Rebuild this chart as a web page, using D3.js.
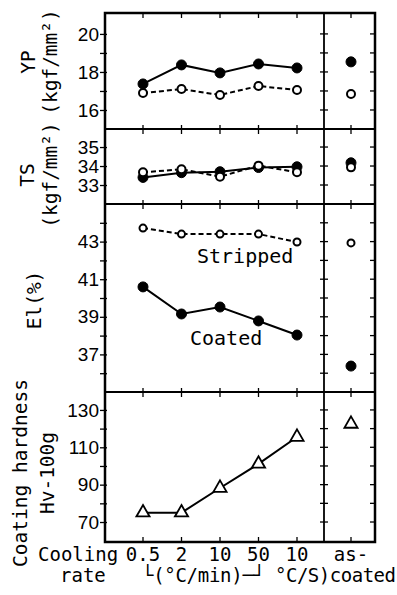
<!DOCTYPE html>
<html>
<head>
<meta charset="utf-8">
<script src="https://cdn.jsdelivr.net/npm/d3@7"></script>
<style>
  body { margin: 0; background: #fff; }
  svg { display: block; }
</style>
</head>
<body>
<div id="chart"></div>
<script>
// cooling rate categories (0.5..50 in °C/min, last one in °C/s)
const categories = ["0.5", "2", "10", "50", "10"];

// YP (kgf/mm2)
const ypCoated = [17.37, 18.37, 17.95, 18.42, 18.21];
const ypStripped = [16.89, 17.1, 16.79, 17.26, 17.05];
const ypAsCoated = [18.53, 16.84]; // coated, stripped

// TS (kgf/mm2)
const tsCoated = [33.4, 33.65, 33.7, 33.92, 33.96];
const tsStripped = [33.67, 33.83, 33.44, 34.02, 33.67];
const tsAsCoated = [34.17, 33.93];

// El (%)
const elCoated = [40.59, 39.15, 39.52, 38.78, 38.03];
const elStripped = [43.72, 43.4, 43.4, 43.4, 42.98];
const elAsCoated = [36.38, 42.93];

// coating hardness Hv-100g
const hardness = [75, 75, 88.2, 101.1, 115.5];
const hardnessAsCoated = [122.5];

// tick labels
const ypTicks = [16, 18, 20];
const tsTicks = [33, 34, 35];
const elTicks = [37, 39, 41, 43];
const hvTicks = [70, 90, 110, 130];

const W = 397, H = 595;
const left = 105, divider = 324, right = 375;
const mono = "'DejaVu Sans Mono', 'Liberation Mono', monospace";
const sans = "'Liberation Sans', Arial, sans-serif";

const svg = d3.select("#chart").append("svg")
  .attr("width", W).attr("height", H)
  .style("background", "#fff");

const x = d3.scaleLinear().domain([0, categories.length - 1]).range([143, 297]);
const xAs = d3.scalePoint().domain(["as-coated"]).range([327, 375]).padding(0.5);

const panels = [
  { top: 13, bottom: 129, domain: [15, 21.1], labels: ypTicks, minor: d3.range(16, 21, 1) },
  { top: 129, bottom: 204, domain: [32, 35.95], labels: tsTicks, minor: d3.range(33, 36, 1) },
  { top: 204, bottom: 392, domain: [35, 45], labels: elTicks, minor: d3.range(36, 45, 1) },
  { top: 392, bottom: 542, domain: [59.3, 139.6], labels: hvTicks, minor: d3.range(70, 140, 10) }
];
panels.forEach(p => {
  p.y = d3.scaleLinear().domain(p.domain).range([p.bottom, p.top]);
});

// frame
svg.append("rect")
  .attr("x", left).attr("y", panels[0].top)
  .attr("width", right - left).attr("height", panels[3].bottom - panels[0].top)
  .attr("fill", "none").attr("stroke", "#000").attr("stroke-width", 2.5);

svg.selectAll(".sep")
  .data(panels.slice(1))
  .enter().append("line")
  .attr("x1", left).attr("x2", right)
  .attr("y1", d => d.top).attr("y2", d => d.top)
  .attr("stroke", "#000").attr("stroke-width", 2);

svg.append("line")
  .attr("x1", divider).attr("x2", divider)
  .attr("y1", panels[0].top).attr("y2", panels[3].bottom)
  .attr("stroke", "#000").attr("stroke-width", 1.8);

// ticks along the horizontal lines
const xTicks = categories.map((c, i) => x(i)).concat([xAs("as-coated")]);
panels.forEach((p, k) => {
  const g = svg.append("g");
  g.selectAll("line.top")
    .data(xTicks)
    .enter().append("line")
    .attr("x1", d => d).attr("x2", d => d)
    .attr("y1", k == 0 ? p.top : p.top - 4)
    .attr("y2", p.top + 5)
    .attr("stroke", "#000").attr("stroke-width", 1.3);
});
svg.append("g").selectAll("line")
  .data(xTicks)
  .enter().append("line")
  .attr("x1", d => d).attr("x2", d => d)
  .attr("y1", panels[3].bottom - 5).attr("y2", panels[3].bottom)
  .attr("stroke", "#000").attr("stroke-width", 1.3);

// y axes
panels.forEach(p => {
  const ax = svg.append("g")
    .attr("transform", "translate(" + left + ",0)")
    .call(d3.axisLeft(p.y)
      .tickValues(p.minor)
      .tickSizeInner(5).tickSizeOuter(0).tickPadding(1)
      .tickFormat(d => p.labels.includes(d) ? d : ""));
  ax.select(".domain").remove();
  ax.selectAll("line").attr("stroke-width", 1.3).attr("x2", -5).attr("x1", 2);
  ax.selectAll("text")
    .attr("font-family", sans).attr("font-size", 19).attr("fill", "#000");

  // divider ticks (crossing)
  svg.append("g").selectAll("line")
    .data(p.minor)
    .enter().append("line")
    .attr("x1", divider - 4).attr("x2", divider + 4)
    .attr("y1", d => p.y(d)).attr("y2", d => p.y(d))
    .attr("stroke", "#000").attr("stroke-width", 1.3);

  // right frame ticks (inward)
  svg.append("g").selectAll("line")
    .data(p.minor)
    .enter().append("line")
    .attr("x1", right - 5).attr("x2", right)
    .attr("y1", d => p.y(d)).attr("y2", d => p.y(d))
    .attr("stroke", "#000").attr("stroke-width", 1.3);
});

// series
function drawLine(vals, y, dashed) {
  svg.append("path")
    .datum(vals)
    .attr("fill", "none")
    .attr("stroke", "#000")
    .attr("stroke-width", 2)
    .attr("stroke-dasharray", dashed ? "5,3" : null)
    .attr("d", d3.line().x((d, i) => x(i)).y(d => y(d)));
}
function drawDots(vals, y, filled, r, xf) {
  svg.append("g").selectAll("circle")
    .data(vals)
    .enter().append("circle")
    .attr("cx", (d, i) => xf(i))
    .attr("cy", d => y(d))
    .attr("r", r)
    .attr("fill", filled ? "#000" : "#fff")
    .attr("stroke", "#000")
    .attr("stroke-width", filled ? 1 : 2);
}
const xi = i => x(i);
const xa = i => xAs("as-coated");

const yYP = panels[0].y, yTS = panels[1].y, yEl = panels[2].y, yHv = panels[3].y;

drawLine(ypCoated, yYP, false);
drawLine(ypStripped, yYP, true);
drawDots(ypCoated, yYP, true, 5, xi);
drawDots(ypStripped, yYP, false, 4, xi);
drawDots([ypAsCoated[0]], yYP, true, 5, xa);
drawDots([ypAsCoated[1]], yYP, false, 4, xa);

drawLine(tsCoated, yTS, false);
drawLine(tsStripped, yTS, true);
drawDots(tsCoated, yTS, true, 5, xi);
drawDots(tsStripped, yTS, false, 4, xi);
drawDots([tsAsCoated[0]], yTS, true, 5, xa);
drawDots([tsAsCoated[1]], yTS, false, 4, xa);

drawLine(elCoated, yEl, false);
drawLine(elStripped, yEl, true);
drawDots(elCoated, yEl, true, 5, xi);
drawDots(elStripped, yEl, false, 3.5, xi);
drawDots([elAsCoated[0]], yEl, true, 5, xa);
drawDots([elAsCoated[1]], yEl, false, 3.5, xa);

drawLine(hardness, yHv, false);
const tri = d3.symbol().type(d3.symbolTriangle).size(75);
svg.append("g").selectAll("path")
  .data(hardness.map((v, i) => [xi(i), yHv(v)]).concat(hardnessAsCoated.map(v => [xAs("as-coated"), yHv(v)])))
  .enter().append("path")
  .attr("transform", d => "translate(" + d[0] + "," + d[1] + ")")
  .attr("d", tri)
  .attr("fill", "#fff")
  .attr("stroke", "#000")
  .attr("stroke-width", 1.8);

// series labels
svg.append("text").attr("x", 197).attr("y", 263)
  .attr("font-family", mono).attr("font-size", 20).text("Stripped");
svg.append("text").attr("x", 190).attr("y", 345)
  .attr("font-family", mono).attr("font-size", 20).text("Coated");

// left rotated labels
const rotLabels = [
  { text: "YP", x: 28, y: 62 },
  { text: "(kgf/mm²)", x: 50, y: 62 },
  { text: "TS", x: 27, y: 175 },
  { text: "(kgf/mm²)", x: 50, y: 175 },
  { text: "El(%)", x: 34, y: 300 },
  { text: "Coating hardness", x: 20, y: 473 },
  { text: "Hv-100g", x: 47, y: 473 }
];
svg.append("g").selectAll("text")
  .data(rotLabels)
  .enter().append("text")
  .attr("transform", d => "translate(" + d.x + "," + d.y + ") rotate(-90)")
  .attr("text-anchor", "middle")
  .attr("dominant-baseline", "central")
  .attr("font-family", mono)
  .attr("font-size", 19.5)
  .text(d => d.text);

// bottom labels
const bottom = svg.append("g").attr("font-family", mono).attr("font-size", 19);
bottom.append("text").attr("x", 38).attr("y", 561).text("Cooling");
bottom.append("text").attr("x", 60).attr("y", 582).text("rate");
bottom.selectAll("text.cat")
  .data(categories)
  .enter().append("text")
  .attr("class", "cat")
  .attr("x", (d, i) => x(i))
  .attr("y", 561)
  .attr("text-anchor", "middle")
  .text(d => d);
bottom.append("text").attr("x", xAs("as-coated")).attr("y", 561)
  .attr("text-anchor", "middle").text("as-");
bottom.append("text").attr("x", 142).attr("y", 582)
  .attr("textLength", 123).text("└(°C/min)─┘");
bottom.append("text").attr("x", 275).attr("y", 582)
  .attr("textLength", 121).text("°C/S)coated");
</script>
</body>
</html>
